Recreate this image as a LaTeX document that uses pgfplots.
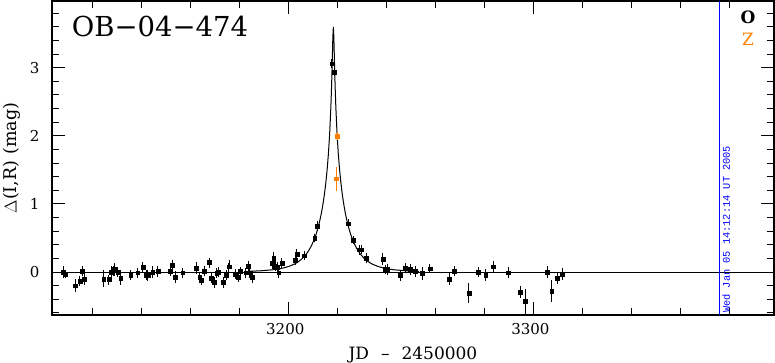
\documentclass[border=0pt]{standalone}
\usepackage{fontspec}
\setmainfont{DejaVu Serif}
\setmonofont{Liberation Mono}
\usepackage{pgfplots}
\usepackage{pgfplotstable}
\pgfplotsset{compat=1.18}
\definecolor{zorange}{RGB}{255,128,0}

\pgfplotstableread{
x y e
3108.2 0.00 0.05
3108.9 -0.03 0.03
3113.0 -0.20 0.06
3115.0 -0.13 0.04
3115.9 0.01 0.04
3116.8 -0.10 0.05
3124.7 -0.10 0.09
3126.8 -0.11 0.04
3127.8 0.00 0.05
3128.5 0.02 0.04
3128.9 0.04 0.06
3130.5 0.00 0.04
3131.6 -0.09 0.06
3135.7 -0.04 0.04
3138.6 -0.01 0.04
3140.7 0.07 0.05
3142.0 -0.04 0.04
3142.7 -0.05 0.04
3144.7 0.00 0.05
3146.8 0.01 0.05
3151.9 0.01 0.04
3152.8 0.10 0.05
3153.8 -0.07 0.05
3156.9 -0.01 0.04
3162.4 0.06 0.05
3163.9 -0.08 0.05
3164.6 -0.12 0.04
3165.7 0.01 0.04
3167.7 0.14 0.04
3168.6 -0.09 0.04
3169.7 -0.15 0.05
3170.8 -0.02 0.04
3171.5 0.00 0.04
3173.5 -0.15 0.05
3174.7 -0.04 0.04
3175.8 0.08 0.06
3178.5 -0.03 0.04
3179.6 -0.07 0.04
3180.5 0.01 0.03
3182.6 -0.01 0.04
3183.6 0.09 0.04
3184.3 -0.01 0.05
3185.3 -0.07 0.05
3193.4 0.13 0.05
3194.1 0.20 0.06
3194.8 0.09 0.04
3195.4 0.07 0.05
3196.1 -0.01 0.05
3197.4 0.13 0.04
3202.8 0.18 0.04
3203.5 0.26 0.04
3206.5 0.24 0.03
3210.8 0.50 0.03
3211.9 0.67 0.04
3217.8 3.06 0.03
3218.8 2.94 0.03
3224.5 0.71 0.03
3226.6 0.47 0.03
3228.9 0.33 0.04
3229.7 0.33 0.03
3231.8 0.20 0.04
3238.6 0.19 0.05
3239.6 0.04 0.03
3240.6 0.04 0.05
3245.6 -0.05 0.05
3247.7 0.06 0.04
3249.9 0.04 0.05
3251.7 0.01 0.05
3254.8 -0.02 0.06
3257.8 0.05 0.03
3265.7 -0.10 0.05
3267.8 0.01 0.04
3273.7 -0.31 0.11
3277.6 0.00 0.04
3280.6 -0.04 0.05
3283.6 0.08 0.05
3289.7 -0.01 0.05
3294.7 -0.29 0.05
3296.6 -0.43 0.15
3305.7 0.00 0.05
3307.5 -0.28 0.13
3309.7 -0.09 0.05
3311.7 -0.03 0.05
}\dataO

\pgfplotstableread{
x y e
3219.9 2.00 0.02
3219.7 1.37 0.14
}\dataZ

\pgfplotstableread{
x y
3183.4 0.0108
3188.4 0.0183
3193.4 0.0329
3196.4 0.0485
3198.4 0.0640
3200.4 0.0855
3202.4 0.1161
3203.4 0.1358
3204.4 0.1599
3205.4 0.1887
3206.4 0.2240
3207.4 0.2664
3208.4 0.3193
3209.4 0.383
3210.4 0.462
3211.4 0.561
3212.4 0.686
3212.9 0.761
3213.4 0.845
3213.9 0.942
3214.4 1.053
3214.9 1.183
3215.4 1.335
3215.9 1.519
3216.4 1.746
3216.9 2.038
3217.2 2.274
3217.4 2.437
3217.6 2.643
3217.8 2.886
3218.0 3.168
3218.2 3.456
3218.4 3.598
3218.6 3.456
3218.8 3.168
3219.0 2.886
3219.2 2.643
3219.4 2.437
3219.6 2.274
3219.9 2.038
3220.4 1.746
3220.9 1.519
3221.4 1.335
3221.9 1.183
3222.4 1.053
3222.9 0.942
3223.4 0.845
3223.9 0.761
3224.4 0.686
3225.4 0.561
3226.4 0.462
3227.4 0.383
3228.4 0.3193
3229.4 0.2664
3230.4 0.2240
3231.4 0.1887
3232.4 0.1599
3233.4 0.1358
3234.4 0.1161
3236.4 0.0855
3238.4 0.0640
3240.4 0.0485
3243.4 0.0329
3248.4 0.0183
3253.4 0.0108
}\model

\begin{document}
\begin{tikzpicture}
\useasboundingbox (0pt,0pt) rectangle (775pt,362pt);
\begin{axis}[
  at={(52pt,47pt)}, anchor=south west,
  width=722pt, height=314pt, scale only axis,
  xmin=3103.6, xmax=3398.2, ymin=-0.63, ymax=3.98,
  axis line style={line width=1.1pt},
  xtick={3200,3300},
  minor xtick={3120,3140,3160,3180,3220,3240,3260,3280,3320,3340,3360,3380},
  ytick={0,1,2,3},
  minor ytick={-0.6,-0.4,-0.2,0.2,0.4,0.6,0.8,1.2,1.4,1.6,1.8,2.2,2.4,2.6,2.8,3.2,3.4,3.6,3.8},
  xtick align=inside, ytick align=inside,
  xtick pos=both, ytick pos=both,
  major tick length=13pt, minor tick length=7pt,
  xtick style={black, line width=1pt},
  ytick style={black, line width=1pt},
  minor tick style={black, line width=1pt},
  tick label style={font=\fontsize{15}{15}\selectfont},
  /pgf/number format/assume math mode=true,
  /pgf/number format/1000 sep={},
  xticklabel style={yshift=-5pt, xshift=-3pt},
  yticklabel style={xshift=-9pt},
  xlabel={JD\hspace{12pt}–\hspace{12pt}2450000},
  xlabel style={font=\fontsize{17}{17}\selectfont, at={(axis description cs:0.5,0)}, anchor=base, yshift=-44pt},
  ylabel={$\Delta$(I,R)\hspace{6pt}(mag)},
  ylabel style={font=\fontsize{17.5}{17.5}\selectfont, at={(axis description cs:-0.0554,0.5)}, anchor=center},
  clip=true,
]
\addplot[black, line width=0.8pt] coordinates {(3103.6,0) (3398.2,0)};
\addplot[blue, line width=0.8pt] coordinates {(3376.1,-0.63) (3376.1,3.98)};
\addplot[black, line width=1pt] table[x=x,y=y] {\model};
\addplot[black, only marks, mark=square*, mark size=1.9pt,
  error bars/.cd, y dir=both, y explicit,
  error bar style={line width=0.9pt, black},
  error mark options={line width=0.9pt, mark size=2.3pt, black}]
  table[x=x,y=y,y error=e] {\dataO};
\addplot[zorange, only marks, mark=square*, mark size=1.9pt, mark options={fill=zorange, draw=zorange},
  error bars/.cd, y dir=both, y explicit,
  error bar style={line width=0.9pt, zorange},
  error mark options={line width=0.9pt, mark size=2.3pt, zorange}]
  table[x=x,y=y,y error=e] {\dataZ};
\node[anchor=base west, inner sep=0pt, font=\fontsize{27.5}{27.5}\selectfont] at (axis description cs:0.0273,0.886) {OB−04−474};
\node[anchor=center, inner sep=0pt, font=\fontsize{17}{17}\selectfont\bfseries] at (axis description cs:0.964,0.949) {O};
\node[anchor=center, inner sep=0pt, text=zorange, font=\fontsize{17}{17}\selectfont] at (axis description cs:0.964,0.879) {Z};
\node[rotate=90, anchor=north west, inner sep=0pt, text=blue, font=\ttfamily\fontsize{10.3}{10.3}\selectfont] at (axis cs:3377.1,-0.6) {Wed Jan 05 14:12:14 UT 2005};
\end{axis}
\end{tikzpicture}
\end{document}
